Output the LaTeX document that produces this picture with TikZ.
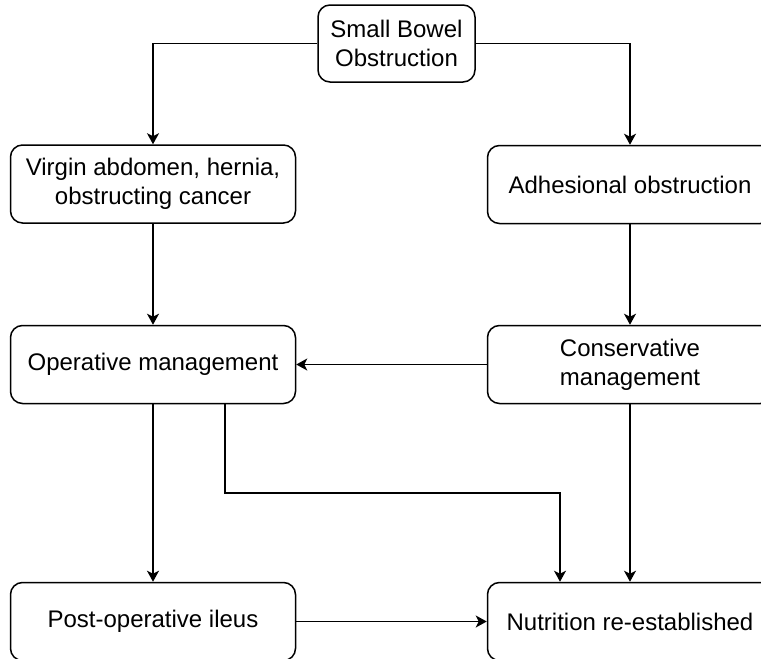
\documentclass[tikz,border=0pt]{standalone}
\usepackage{fontspec}
\setmainfont{Liberation Sans}
\usetikzlibrary{arrows.meta}

\begin{document}
\begin{tikzpicture}[x=0.5pt,y=-0.5pt,
    box/.style={draw,line width=0.75pt,rounded corners=6pt,align=center,
      minimum width=142.5pt,minimum height=39pt,inner sep=2pt,font=\fontsize{12}{14.5}\selectfont},
    arr/.style={line width=0.75pt,-{Stealth[length=5.5pt,width=6pt,inset=1.5pt]}}]
    \clip (0,0) rectangle (761,659);
    \node[box,minimum width=78.5pt,minimum height=38.5pt] (sbo) at (396.5,43.5) {Small Bowel\\Obstruction};
    \node[box] (virgin) at (153,184) {Virgin abdomen, hernia,\\obstructing cancer};
    \node[box] (adh) at (630,184.5) {Adhesional obstruction};
    \node[box] (opm) at (153,364.5) {Operative management};
    \node[box] (cons) at (630,364.5) {Conservative\\management};
    \node[box] (postop) at (153,621.5) {Post-operative ileus};
    \node[box] (nutr) at (630,621.5) {Nutrition re-established};
    \coordinate (k1) at (225,493);
    \coordinate (k2) at (560,493);
    \draw[arr] (sbo.west) -| (virgin.north);
    \draw[arr] (sbo.east) -| (adh.north);
    \draw[arr] (virgin) -- (opm);
    \draw[arr] (adh) -- (cons);
    \draw[arr] (cons) -- (opm);
    \draw[arr] (opm) -- (postop);
    \draw[arr] (opm.south -| k1) -- (k1) -- (k2) -- (k2 |- nutr.north);
    \draw[arr] (cons) -- (nutr);
    \draw[arr] (postop) -- (nutr);
  \end{tikzpicture}
\end{document}
